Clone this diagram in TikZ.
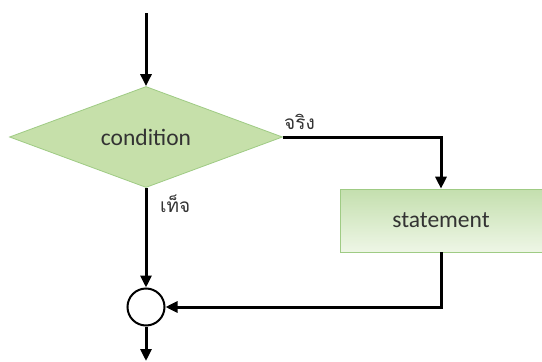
\documentclass[tikz,border=0pt]{standalone}
\usepackage{fontspec}
\setmainfont{Carlito}
\newfontfamily\thaifont[Script=Thai]{Loma}
\usetikzlibrary{shapes.geometric,arrows.meta}
\definecolor{dfill}{HTML}{C6E0AA}
\definecolor{dline}{HTML}{9FCB84}
\definecolor{stop}{HTML}{C4DFAE}
\definecolor{sbot}{HTML}{EEF6E6}
\definecolor{txt}{HTML}{333333}
\tikzset{
  flow/.style={line width=3pt, -{Triangle[length=12pt,width=11pt]}},
  decision/.style={diamond, aspect=2.7, fill=dfill, draw=dline, line width=0.8pt,
    minimum width=273pt, minimum height=101pt, inner sep=0pt, text=txt, font=\fontsize{23.5}{28}\selectfont},
  process/.style={rectangle, top color=stop, bottom color=sbot, draw=dline, line width=0.6pt,
    minimum width=202pt, minimum height=63pt, inner sep=0pt, text=txt, font=\fontsize{23.5}{28}\selectfont},
  joint/.style={circle, draw=black, fill=white, line width=2pt, minimum size=37pt, inner sep=0pt},
  lbl/.style={text=txt, font=\thaifont\fontsize{19}{22}\selectfont, inner sep=0pt}
}
\begin{document}
\begin{tikzpicture}[x=1pt,y=-1pt]
\useasboundingbox (0,0) rectangle (542,362);
\fill[white] (0,0) rectangle (542,362);
% entry point and exit point
\coordinate (in) at (146,13);
\coordinate (out) at (146,361);
% decision, process and the joining circle
\node[decision] (cond) at (146,137) {condition};
\node[process] (stmt) at (441,220.5) {statement};
\node[joint] (join) at (146,307) {};
% connectors
\draw[flow] (in) -- (cond.north);
\draw[flow] (cond.east) -| (stmt.north);
\draw[flow] (cond.south) -- (join.north);
\draw[flow] (stmt.south) |- (join.east);
\draw[flow] (join.south) -- (out);
% branch labels
\node[lbl, anchor=south west] (yes) at (284,130) {จริง};
\node[lbl, anchor=north west] (no) at (160,195) {เท็จ};
\end{tikzpicture}
\end{document}
